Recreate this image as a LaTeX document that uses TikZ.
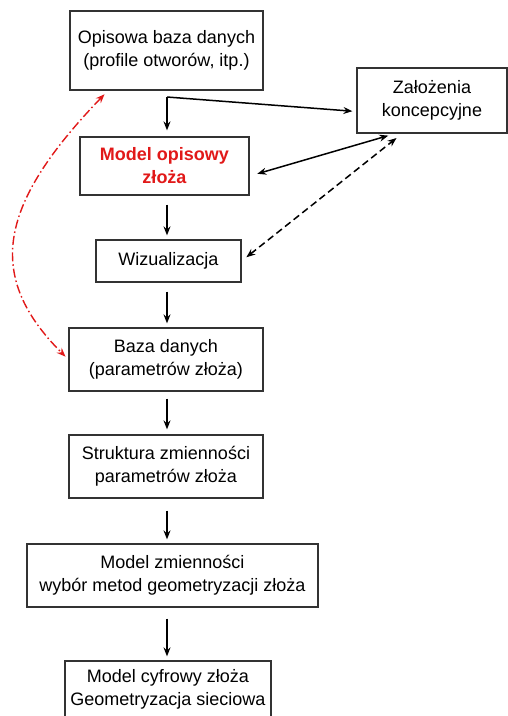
\documentclass[tikz,border=0pt]{standalone}
\usepackage{fontspec}
\setmainfont{Liberation Sans}
\usetikzlibrary{arrows.meta,calc}
\definecolor{redline}{RGB}{225,25,25}
\begin{document}
\begin{tikzpicture}[x=1pt,y=-1pt,
  box/.style={draw=black!80,line width=1.3pt,rectangle,inner sep=0pt,align=center,
    font=\fontsize{18}{23}\selectfont},
  tip/.style={Stealth[length=9pt,width=7pt,inset=3pt]},
  arr/.style={-{Stealth[length=9pt,width=7pt,inset=3pt]},line width=1.5pt},
  darr/.style={{Stealth[length=9pt,width=7pt,inset=3pt]}-{Stealth[length=9pt,width=7pt,inset=3pt]},line width=1.5pt},
  redarr/.style={{Stealth[length=9pt,width=7pt,inset=3pt]}-{Stealth[length=9pt,width=7pt,inset=3pt]},
    line width=1.4pt,draw=redline,dash pattern=on 9pt off 3pt on 1.5pt off 3pt}]
\useasboundingbox (0,0) rectangle (508,716);
\node[box,minimum width=193pt,minimum height=79pt] (op) at (166.5,50.5) {Opisowa baza danych\\(profile otworów, itp.)};
\node[box,minimum width=150pt,minimum height=65pt] (zal) at (432,100.5) {Założenia\\koncepcyjne};
\node[box,minimum width=169pt,minimum height=58pt,text=redline,font=\fontsize{18}{23}\selectfont\bfseries] (mo) at (164.5,166) {Model opisowy\\złoża};
\node[box,minimum width=145pt,minimum height=42pt] (wiz) at (168.5,261) {Wizualizacja};
\node[box,minimum width=194pt,minimum height=63pt] (baza) at (166,359.5) {Baza danych\\(parametrów złoża)};
\node[box,minimum width=194pt,minimum height=63pt] (str) at (166,466.5) {Struktura zmienności\\parametrów złoża};
\node[box,minimum width=291pt,minimum height=63pt] (mz) at (172.5,575.5) {Model zmienności\\wybór metod geometryzacji złoża};
\node[box,minimum width=206pt,minimum height=56pt] (mc) at (168,689) {Model cyfrowy złoża\\Geometryzacja sieciowa};
\coordinate (j) at (167,97);
\draw[arr,shorten >=6pt] (j) -- (j |- mo.north);
\draw[arr,shorten >=4pt] (j) -- ([yshift=-11pt]zal.west);
\draw[darr,shorten <=8pt,shorten >=7pt] ([yshift=-10pt]mo.east) -- ([xshift=-37pt]zal.south);
\draw[darr,dash pattern=on 7pt off 4pt,shorten <=6pt,shorten >=7pt] (wiz.east) -- ([xshift=-30pt]zal.south);
\draw[arr,shorten <=9pt,shorten >=4pt] (mo.south -| j) -- (wiz.north -| j);
\draw[arr,shorten <=9pt,shorten >=4pt] (wiz.south -| j) -- (baza.north -| j);
\draw[arr,shorten <=7pt,shorten >=5pt] (baza.south -| j) -- (str.north -| j);
\draw[arr,shorten <=12pt,shorten >=4pt] (str.south -| j) -- (mz.north -| j);
\draw[arr,shorten <=11pt,shorten >=4pt] (mz.south -| j) -- (mc.north -| j);
\draw[redarr,shorten <=5pt,shorten >=4pt] ([xshift=-58.5pt]op.south) .. controls (-2,205) and (-15,276) .. (baza.west);
\end{tikzpicture}
\end{document}
